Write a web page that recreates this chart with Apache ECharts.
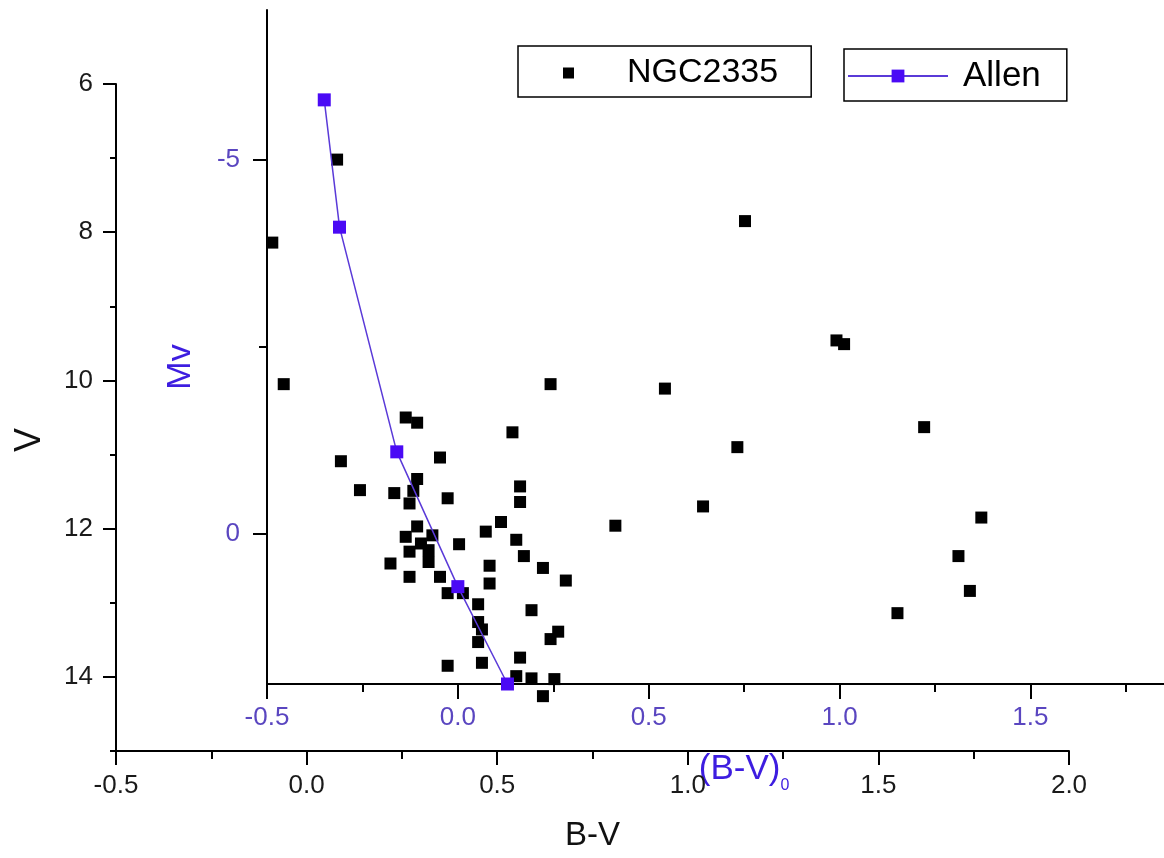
<!DOCTYPE html>
<html><head><meta charset="utf-8">
<script src="https://cdn.jsdelivr.net/npm/echarts@6/dist/echarts.min.js"></script>
<style>html,body{margin:0;padding:0;background:#fff}#c{width:1164px;height:858px}</style>
</head><body><div id="c"></div>
<script>
// NGC2335 observed: B-V and V (outer axes)
const ngcBV = [0.08,-0.09,-0.06,0.26,0.29,0.54,0.09,0.35,0.29,0.56,0.14,0.23,0.28,0.37,0.27,0.56,0.51,0.47,0.29,0.26,0.33,0.40,0.55,0.30,0.27,0.32,0.32,0.57,0.22,0.48,0.62,0.27,0.35,0.68,0.48,0.37,0.41,0.45,0.59,0.45,0.46,0.66,0.64,0.45,0.56,0.37,0.46,0.55,0.59,0.65,0.62,0.64,1.15,1.39,1.41,0.94,1.62,1.13,1.04,0.81,1.77,1.71,1.74,1.55];
const ngcV = [7.02,8.14,10.05,10.50,10.57,10.70,11.09,11.04,11.33,11.43,11.48,11.52,11.49,11.59,11.66,11.64,11.91,12.04,11.97,12.11,12.09,12.21,12.15,12.20,12.31,12.29,12.45,12.37,12.47,12.50,12.53,12.65,12.65,12.70,12.74,12.87,12.87,13.02,13.10,13.26,13.36,13.39,13.49,13.53,13.74,13.85,13.81,13.99,14.02,14.03,14.26,10.05,7.85,9.46,9.51,10.11,10.63,10.90,11.70,11.96,11.85,12.37,12.84,13.14];
// Allen ZAMS: (B-V)0 and Mv (inner axes)
const allenBV0 = [-0.35,-0.31,-0.16,0.00,0.13];
const allenMv = [-5.8,-4.1,-1.1,0.7,2.0];
// tick values
const outerXTicks = [-0.5,0,0.5,1,1.5,2];
const outerXMinor = [-0.25,0.25,0.75,1.25,1.75];
const outerYTicks = [6,8,10,12,14];
const outerYMinor = [7,9,11,13,15];
const innerXTicks = [-0.5,0,0.5,1,1.5];
const innerXMinor = [-0.25,0.25,0.75,1.25,1.75];
const innerYTicks = [-5,0];
const innerYMinor = [-2.5];

const FONT = "'Liberation Sans', Arial, sans-serif";
const PURPLE_LBL = '#5a46c0';
const PURPLE_TTL = '#3d1de0';
const lineStyleBlack = {color:'#000', width:2};

function xAx(o){
  return Object.assign({type:'value', position:'bottom', splitLine:{show:false},
    axisLine:{show:true, onZero:false, lineStyle:lineStyleBlack}}, o);
}
function yAx(o){
  return Object.assign({type:'value', position:'left', inverse:true, splitLine:{show:false},
    axisLine:{show:true, onZero:false, lineStyle:lineStyleBlack}}, o);
}

const chart = echarts.init(document.getElementById('c'));
chart.setOption({
  animation:false,
  backgroundColor:'#fff',
  grid:[
    {left:116, top:84, width:953, height:667, containLabel:false, outerBoundsMode:'none'},
    {left:267, top:10, width:897, height:674, containLabel:false, outerBoundsMode:'none'}
  ],
  legend:[
    {data:['NGC2335'], left:518, top:46, selectedMode:false, itemWidth:11, itemHeight:11,
     borderColor:'#000', borderWidth:1.5, padding:[7,33,4,45],
     textStyle:{fontSize:34, lineHeight:40, fontFamily:FONT, color:'#000', padding:[0,0,0,48]}},
    {data:['Allen'], left:844, top:49, selectedMode:false, itemWidth:100, itemHeight:16,
     borderColor:'#000', borderWidth:1.5, padding:[7,26,5,3],
     textStyle:{fontSize:35, lineHeight:40, fontFamily:FONT, color:'#000', padding:[0,0,0,10]}}
  ],
  xAxis:[
    xAx({gridIndex:0, min:-0.5, max:2.0, name:'B-V', nameLocation:'middle', nameGap:67,
      nameTextStyle:{fontSize:33, lineHeight:36, fontFamily:FONT, color:'#111'},
      axisTick:{show:true, length:14, customValues:outerXTicks, lineStyle:lineStyleBlack},
      axisLabel:{show:true, customValues:outerXTicks, margin:22, fontSize:26, lineHeight:26, fontFamily:FONT, color:'#1a1a1a',
        formatter:v=>v.toFixed(1)}}),
    xAx({gridIndex:0, min:-0.5, max:2.0, axisLine:{show:false, onZero:false},
      axisTick:{show:true, length:8, customValues:outerXMinor, lineStyle:lineStyleBlack},
      axisLabel:{show:false}}),
    xAx({gridIndex:1, min:-0.5, max:1.85, name:'{a|(B-V)}{b|0}', nameLocation:'middle', nameGap:68,
      nameTextStyle:{fontSize:35, fontFamily:FONT, color:PURPLE_TTL, padding:[0,0,0,57],
        rich:{a:{fontSize:35, lineHeight:36, verticalAlign:'top', fontFamily:FONT, color:PURPLE_TTL},
              b:{fontSize:16, lineHeight:16, verticalAlign:'top', padding:[26,0,0,0], fontFamily:FONT, color:PURPLE_TTL}}},
      axisTick:{show:true, length:15, customValues:innerXTicks, lineStyle:lineStyleBlack},
      axisLabel:{show:true, customValues:innerXTicks, margin:21, fontSize:26, lineHeight:26, fontFamily:FONT, color:PURPLE_LBL,
        formatter:v=>v.toFixed(1)}}),
    xAx({gridIndex:1, min:-0.5, max:1.85, axisLine:{show:false, onZero:false},
      axisTick:{show:true, length:8, customValues:innerXMinor, lineStyle:lineStyleBlack},
      axisLabel:{show:false}})
  ],
  yAxis:[
    yAx({gridIndex:0, min:6, max:15, name:'V', nameLocation:'middle', nameGap:66,
      nameTextStyle:{fontSize:36, lineHeight:40, fontFamily:FONT, color:'#111', padding:[0,45,0,0]},
      axisTick:{show:true, length:13, customValues:outerYTicks, lineStyle:lineStyleBlack},
      axisLabel:{show:true, customValues:outerYTicks, margin:23, fontSize:26, lineHeight:26, fontFamily:FONT, color:'#1a1a1a'}}),
    yAx({gridIndex:0, min:6, max:15, axisLine:{show:false, onZero:false},
      axisTick:{show:true, length:6, customValues:outerYMinor, lineStyle:lineStyleBlack},
      axisLabel:{show:false}}),
    yAx({gridIndex:1, min:-7, max:2, name:'Mv', nameLocation:'middle', nameGap:68,
      nameTextStyle:{fontSize:34, lineHeight:36, fontFamily:FONT, color:PURPLE_TTL, padding:[0,40,0,0]},
      axisTick:{show:true, length:14, customValues:innerYTicks, lineStyle:lineStyleBlack},
      axisLabel:{show:true, customValues:innerYTicks, margin:27, fontSize:26, lineHeight:26, fontFamily:FONT, color:PURPLE_LBL}}),
    yAx({gridIndex:1, min:-7, max:2, axisLine:{show:false, onZero:false},
      axisTick:{show:true, length:8, customValues:innerYMinor, lineStyle:lineStyleBlack},
      axisLabel:{show:false}})
  ],
  series:[
    {name:'NGC2335', type:'scatter', xAxisIndex:0, yAxisIndex:0, symbol:'rect', symbolSize:12,
     itemStyle:{color:'#000', opacity:1}, z:2,
     data:ngcBV.map((x,i)=>[x, ngcV[i]])},
    {name:'Allen', type:'line', xAxisIndex:2, yAxisIndex:2, symbol:'rect', symbolSize:13, showAllSymbol:true,
     lineStyle:{color:'#5a3ad8', width:1.5}, itemStyle:{color:'#4a0af5', opacity:1}, z:3, clip:false,
     data:allenBV0.map((x,i)=>[x, allenMv[i]])}
  ]
});
</script>
</body></html>
